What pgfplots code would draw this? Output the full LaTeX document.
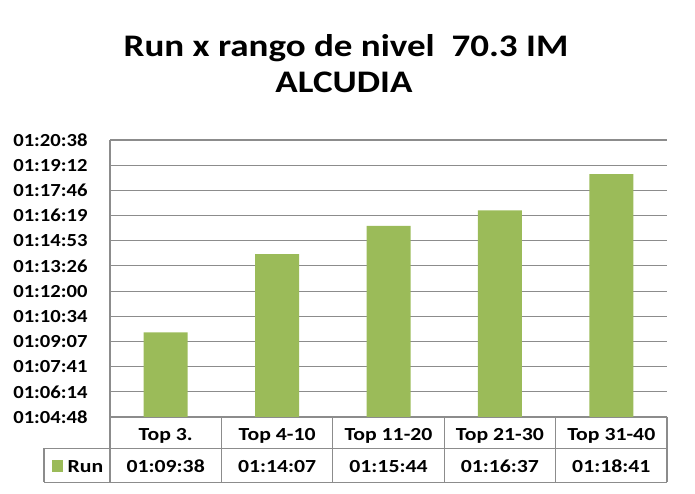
\documentclass[border=0pt]{standalone}
\usepackage{pgfplots}
\pgfplotsset{compat=1.18}
\usepackage{fontspec}
\setmainfont[FakeStretch=1.18]{Carlito}
\newfontfamily\tickfont[FakeStretch=1.12]{Carlito}
\definecolor{barg}{HTML}{9BBB59}
\definecolor{gridc}{HTML}{8C8C8C}
\newcommand{\tf}{\fontsize{18.5}{18.5}\selectfont\bfseries}
\begin{document}
\begin{tikzpicture}[x=1bp,y=1bp]
\path[use as bounding box] (0,0) rectangle (695,494);
\begin{axis}[
  at={(110bp,77bp)}, anchor=south west,
  scale only axis, width=557bp, height=277bp,
  xmin=-0.5, xmax=4.5, ymin=3888, ymax=4838.4,
  xtick=\empty,
  ytick={3888,3974.4,4060.8,4147.2,4233.6,4320,4406.4,4492.8,4579.2,4665.6,4752,4838.4},
  yticklabels={01:04:48,01:06:14,01:07:41,01:09:07,01:10:34,01:12:00,01:13:26,01:14:53,01:16:19,01:17:46,01:19:12,01:20:38},
  yticklabel style={font=\tickfont\fontsize{18.5}{18.5}\selectfont\bfseries, anchor=east, xshift=-19bp},
  major tick length=0pt,
  ymajorgrids, grid style={gridc, line width=1.1bp},
  axis line style={gridc, line width=1.1bp},
  axis x line*=bottom, axis y line*=left,
  clip=false,
]
\addplot[ybar, bar width=0.395, fill=barg, draw=none] coordinates {
  (0,4178) (1,4447) (2,4544) (3,4597) (4,4721)
};
\end{axis}
% data table lines
\draw[gridc, line width=1.1bp] (110,77) -- (110,11.5);
\foreach \xx in {221.4,332.8,444.2,555.6,667} { \draw[gridc, line width=1.1bp] (\xx,77) -- (\xx,11.5); }
\draw[gridc, line width=1.1bp] (44,45.5) -- (667,45.5);
\draw[gridc, line width=1.1bp] (44,11.5) -- (667,11.5);
\draw[gridc, line width=1.1bp] (44,45.5) -- (44,11.5);
\fill[barg] (52,22) rectangle (63,34);
\node[anchor=base west, font=\tf, inner sep=0pt] at (67.5,21) {Run};
\foreach \xx/\lab/\val in {165.7/Top 3./01:09:38, 277.1/Top 4-10/01:14:07, 388.5/Top 11-20/01:15:44, 499.9/Top 21-30/01:16:37, 611.3/Top 31-40/01:18:41} {
  \node[anchor=base, font=\tf, inner sep=0pt] at (\xx,53) {\lab};
  \node[anchor=base, font=\tf, inner sep=0pt] at (\xx,21) {\val};
}
\node[anchor=base, inner sep=0pt, font=\fontsize{31.5}{31.5}\selectfont\bfseries] at (346,437) {Run x rango de nivel \ 70.3 IM};
\node[anchor=base, inner sep=0pt, font=\fontsize{31.5}{31.5}\selectfont\bfseries] at (344,401) {ALCUDIA};
\end{tikzpicture}
\end{document}
